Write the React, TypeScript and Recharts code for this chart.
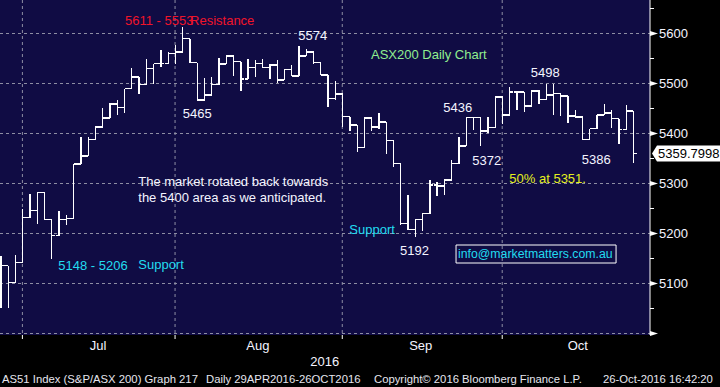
import React from "react";
import {
  Bar,
  CartesianGrid,
  ComposedChart,
  ReferenceArea,
  ReferenceDot,
  ReferenceLine,
  XAxis,
  YAxis,
} from "recharts";

const FONT = '"Liberation Sans", Arial, sans-serif';
const PLOT_BG = "#100c44";
const GRID = "#8e8ea4";
const RED = "#f0142a";
const CYAN = "#22dcf0";
const GREEN = "#90ee90";
const YELLOW = "#e4f01e";
const WHITE = "#f4f4ff";

// session index: 0 = 30 Jun 2016, last = 26 Oct 2016
const FIRST_SESSION = -3;

const opens = [
  5120, 5136, 5102, 5142, 5232, 5246, 5282, 5228, 5196, 5228, 5230, 5339, 5355, 5388, 5413, 5431,
  5459, 5452, 5490, 5513, 5498, 5530, 5540, 5540, 5560, 5563, 5590, 5542, 5467, 5477, 5498, 5539,
  5555, 5544, 5509, 5532, 5540, 5532, 5537, 5507, 5528, 5515, 5555, 5563, 5542, 5517, 5470, 5479,
  5434, 5417, 5372, 5431, 5413, 5423, 5386, 5340, 5220, 5208, 5228, 5240, 5297, 5295, 5307, 5340,
  5375, 5432, 5432, 5405, 5412, 5473, 5437, 5483, 5483, 5455, 5485, 5468, 5477, 5480, 5475, 5435,
  5433, 5388, 5410, 5437, 5441, 5430, 5408, 5445,
];
const highs = [
  5155, 5136, 5157, 5250, 5279, 5282, 5282, 5228, 5245, 5238, 5339, 5393, 5393, 5415, 5451, 5462,
  5467, 5490, 5532, 5513, 5550, 5540, 5567, 5563, 5577, 5613, 5590, 5542, 5512, 5513, 5551, 5555,
  5555, 5544, 5550, 5548, 5550, 5539, 5547, 5530, 5538, 5575, 5570, 5563, 5542, 5517, 5505, 5479,
  5434, 5417, 5432, 5432, 5441, 5423, 5386, 5340, 5277, 5230, 5241, 5307, 5304, 5310, 5347, 5393,
  5433, 5434, 5432, 5433, 5473, 5473, 5493, 5485, 5483, 5487, 5487, 5499, 5499, 5480, 5475, 5447,
  5433, 5410, 5437, 5459, 5448, 5430, 5458, 5445,
];
const lows = [
  5051, 5051, 5102, 5142, 5232, 5220, 5228, 5150, 5196, 5218, 5230, 5339, 5355, 5388, 5413, 5431,
  5437, 5441, 5490, 5480, 5498, 5500, 5533, 5540, 5540, 5563, 5542, 5467, 5467, 5476, 5498, 5539,
  5516, 5485, 5509, 5513, 5532, 5509, 5502, 5507, 5515, 5515, 5555, 5540, 5517, 5454, 5468, 5413,
  5406, 5364, 5372, 5406, 5410, 5360, 5334, 5217, 5208, 5193, 5206, 5240, 5276, 5277, 5307, 5340,
  5375, 5408, 5375, 5402, 5412, 5420, 5437, 5447, 5443, 5455, 5460, 5468, 5437, 5435, 5421, 5432,
  5388, 5388, 5410, 5437, 5412, 5380, 5408, 5341,
];
const closes = [
  5136, 5102, 5142, 5232, 5246, 5282, 5228, 5196, 5228, 5230, 5339, 5355, 5388, 5413, 5431, 5459,
  5452, 5490, 5513, 5498, 5530, 5540, 5540, 5560, 5563, 5590, 5542, 5467, 5477, 5498, 5539, 5555,
  5544, 5509, 5532, 5540, 5532, 5537, 5507, 5528, 5515, 5555, 5563, 5542, 5517, 5470, 5479, 5434,
  5417, 5372, 5431, 5413, 5423, 5386, 5340, 5220, 5208, 5228, 5240, 5297, 5295, 5307, 5340, 5375,
  5432, 5432, 5405, 5412, 5473, 5437, 5483, 5483, 5455, 5485, 5468, 5477, 5480, 5475, 5435, 5433,
  5388, 5410, 5437, 5441, 5430, 5408, 5445, 5360,
];
const lastPrice = 5359.7998;

// month boundaries (last session of Jun, Jul, Aug, Sep) and label positions
const monthEdges = [0, 21, 44, 66];
const monthLabels = [
  { pos: 10.4, text: "Jul" },
  { pos: 32.4, text: "Aug" },
  { pos: 54.8, text: "Sep" },
  { pos: 76.4, text: "Oct" },
];
const yearLabel = { pos: 41.6, text: "2016" };

const priceTicks = [5000, 5050, 5100, 5150, 5200, 5250, 5300, 5350, 5400, 5450, 5500, 5550, 5600, 5650];
const gridPrices = [5000, 5100, 5200, 5300, 5400, 5500, 5600];

const notes = [
  { x: 14.11, y: 5625.6, text: "5611 - 5553", color: RED },
  { x: 23.06, y: 5625.6, text: "Resistance", color: RED },
  { x: 22.05, y: 5440.4, text: "5465", color: WHITE },
  { x: 37.95, y: 5597, text: "5574", color: WHITE },
  { x: 47.95, y: 5559, text: "ASX200 Daily Chart", color: GREEN },
  { x: 69.92, y: 5521.6, text: "5498", color: WHITE },
  { x: 57.9, y: 5452.4, text: "5436", color: WHITE },
  { x: 61.89, y: 5347, text: "5372", color: WHITE },
  { x: 76.94, y: 5348.4, text: "5386", color: WHITE },
  { x: 66.98, y: 5310.4, text: "50% at 5351.", color: YELLOW },
  { x: 15.94, y: 5303.6, text: "The market rotated back towards", color: WHITE },
  { x: 15.94, y: 5272.4, text: "the 5400 area as we anticipated.", color: WHITE },
  { x: 44.97, y: 5208.4, text: "Support", color: CYAN },
  { x: 51.94, y: 5167, text: "5192", color: WHITE },
  { x: 4.94, y: 5137, text: "5148 - 5206", color: CYAN },
  { x: 15.94, y: 5137.6, text: "Support", color: CYAN },
];
const infoBox = { x1: 59.65, x2: 81.66, y1: 5141, y2: 5177, text: "info@marketmatters.com.au" };

const sessions = opens.map((o, i) => ({
  idx: FIRST_SESSION + i,
  o,
  h: highs[i],
  l: lows[i],
  c: closes[i],
  range: [lows[i], highs[i]],
}));

/* eslint-disable @typescript-eslint/no-explicit-any */
function OhlcShape(props: any) {
  const { x, y, width, height, payload } = props;
  if (x == null || y == null) return null;
  const cx = x + width / 2;
  const top = Math.min(y, y + height);
  const bot = Math.max(y, y + height);
  const span = payload.h - payload.l;
  const py = (v: number) => (span === 0 ? top : top + ((payload.h - v) / span) * (bot - top));
  return (
    <g stroke="#ffffff" strokeWidth={1.3} shapeRendering="crispEdges">
      <line x1={cx} x2={cx} y1={top} y2={bot} />
      <line x1={cx - 3.6} x2={cx} y1={py(payload.o)} y2={py(payload.o)} />
      <line x1={cx} x2={cx + 3.6} y1={py(payload.c)} y2={py(payload.c)} />
    </g>
  );
}

function TimeTick(props: any) {
  const { x, y, payload } = props;
  const v = payload.value;
  if (monthEdges.includes(v)) {
    return <line x1={x} x2={x} y1={y} y2={y + 4} stroke="#ffffff" />;
  }
  const isYear = v === yearLabel.pos;
  const m = monthLabels.find((l) => l.pos === v);
  const text = isYear ? yearLabel.text : m ? m.text : "";
  return (
    <text x={x} y={y + (isYear ? 31.4 : 15.4)} textAnchor="middle" fill={WHITE} fontSize={13} fontFamily={FONT}>
      {text}
    </text>
  );
}

function PriceTick(props: any) {
  const { x, y, payload } = props;
  const v = payload.value;
  if (v % 100 !== 0) {
    return <line x1={x} x2={x + 4} y1={y} y2={y} stroke="#ffffff" />;
  }
  return (
    <g>
      <polygon points={`${x},${y - 2.5} ${x + 8},${y} ${x},${y + 2.5}`} fill="#ffffff" />
      {v > 5000 && (
        <text x={x + 9} y={y} dy="0.36em" fill={WHITE} fontSize={13} fontFamily={FONT}>
          {v}
        </text>
      )}
    </g>
  );
}

function Note(props: any) {
  const { viewBox, text, color } = props;
  if (!viewBox) return null;
  return (
    <text x={viewBox.x} y={viewBox.y} dy="0.36em" fill={color} fontSize={13} fontFamily={FONT}>
      {text}
    </text>
  );
}

function LastPriceTag(props: any) {
  const { viewBox } = props;
  if (!viewBox) return null;
  const x = viewBox.x + viewBox.width + 2;
  const y = viewBox.y;
  return (
    <g>
      <polygon
        points={`${x},${y} ${x + 5},${y - 8} ${x + 70},${y - 8} ${x + 70},${y + 8} ${x + 5},${y + 8}`}
        fill="#ffffff"
      />
      <text x={x + 6} y={y} dy="0.36em" fill="#000000" fontSize={13} fontFamily={FONT}>
        {lastPrice.toFixed(4)}
      </text>
    </g>
  );
}

const footer = [
  { left: 2, text: "AS51 Index (S&P/ASX 200) Graph 217" },
  { left: 206, text: "Daily 29APR2016-26OCT2016" },
  { left: 374, text: "Copyright\u00a9 2016 Bloomberg Finance L.P." },
  { left: 603, text: "26-Oct-2016 16:42:20" },
];

export default function App() {
  return (
    <div
      style={{
        position: "fixed",
        left: 0,
        top: 0,
        width: 720,
        height: 387,
        background: "#000000",
        overflow: "hidden",
        fontFamily: FONT,
      }}
    >
      <ComposedChart width={720} height={387} data={sessions} margin={{ top: 0, right: 0, bottom: 0, left: 0 }}>
        <CartesianGrid
          fill={PLOT_BG}
          fillOpacity={1}
          stroke={GRID}
          strokeDasharray="3 3"
          horizontalValues={gridPrices}
          verticalValues={monthEdges}
        />
        <XAxis
          dataKey="idx"
          type="number"
          domain={[-3.08, 86.33]}
          allowDataOverflow
          ticks={[...monthEdges, ...monthLabels.map((m) => m.pos), yearLabel.pos]}
          interval={0}
          tick={<TimeTick />}
          tickLine={false}
          axisLine={false}
          tickSize={0}
          tickMargin={0}
          height={52}
        />
        <YAxis
          orientation="right"
          type="number"
          domain={[4997, 5667]}
          allowDataOverflow
          ticks={priceTicks}
          interval={0}
          tick={<PriceTick />}
          tickLine={false}
          tickSize={0}
          tickMargin={0}
          axisLine={{ stroke: "#ffffff" }}
          width={70}
        />
        <Bar dataKey="range" shape={<OhlcShape />} barSize={6} isAnimationActive={false} />
        {notes.map((n, i) => (
          <ReferenceDot
            key={i}
            x={n.x}
            y={n.y}
            r={0}
            fill="none"
            stroke="none"
            label={<Note text={n.text} color={n.color} />}
          />
        ))}
        <ReferenceArea
          x1={infoBox.x1}
          x2={infoBox.x2}
          y1={infoBox.y1}
          y2={infoBox.y2}
          fill="none"
          stroke="#ffffff"
          strokeWidth={1}
          fillOpacity={0}
          label={{ value: infoBox.text, position: "insideLeft", offset: 2, fill: CYAN, fontSize: 12.3, fontFamily: FONT }}
        />
        <ReferenceLine y={lastPrice} stroke="none" label={<LastPriceTag />} />
      </ComposedChart>
      {footer.map((f) => (
        <span
          key={f.left}
          style={{
            position: "absolute",
            left: f.left,
            top: 372,
            fontSize: 11.3,
            lineHeight: "14px",
            color: "#e6e6ee",
            whiteSpace: "nowrap",
          }}
        >
          {f.text}
        </span>
      ))}
    </div>
  );
}
